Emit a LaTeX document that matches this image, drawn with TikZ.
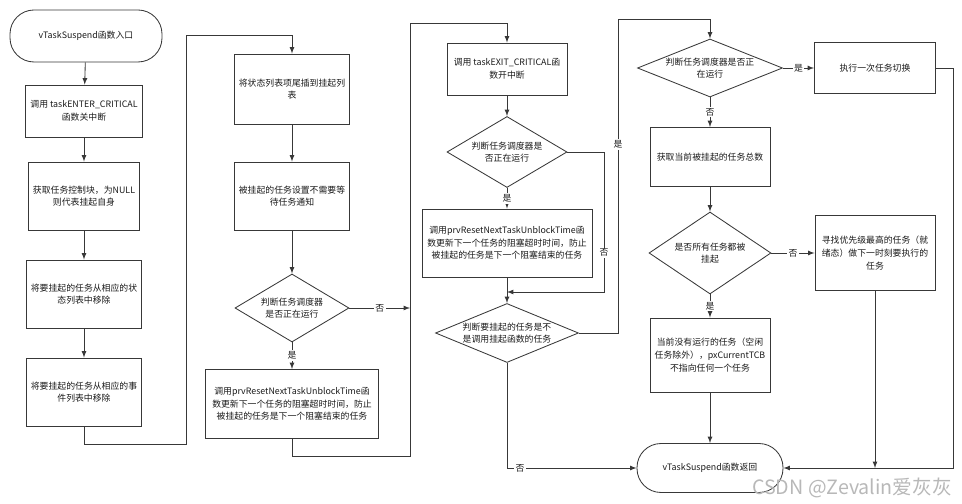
\documentclass[tikz,border=0pt]{standalone}
\usepackage{fontspec}
\setmainfont{Noto Sans CJK SC}
\usetikzlibrary{shapes.geometric}
\def\pxl{0.025cm}
\definecolor{linegray}{HTML}{383838}
\definecolor{textgray}{HTML}{1A1A1A}
\tikzset{
	procbox/.style={draw=linegray, line width=0.6pt, rectangle, align=center, text=textgray},
	decision/.style={draw=linegray, line width=0.6pt, diamond, inner sep=0pt},
	terminal/.style={draw=linegray, line width=0.6pt, rectangle, rounded corners=0.6cm, align=center, text=textgray},
	arr/.style={draw=linegray, line width=0.6pt, -latex},
	yesno/.style={fill=white, inner sep=1pt, text=textgray}
}

\begin{document}
\begin{tikzpicture}[x=0.025cm, y=-0.025cm, font=\fontsize{6.3}{9}\selectfont]
		%%%%% START %%%%%
		\useasboundingbox (0,0) rectangle (962,504);
		
		% first column
		\node[terminal, minimum width=152*\pxl, minimum height=52*\pxl] (start) at (86,36) {vTaskSuspend函数入口};
		\node[procbox, minimum width=112*\pxl, minimum height=52*\pxl] (b1) at (84,111) {调用 taskENTER\_CRITICAL\\函数关中断};
		\node[procbox, minimum width=110*\pxl, minimum height=68*\pxl] (b2) at (84,196) {获取任务控制块，为NULL\\则代表挂起自身};
		\node[procbox, minimum width=112*\pxl, minimum height=68*\pxl] (b3) at (84,294) {将要挂起的任务从相应的状\\态列表中移除};
		\node[procbox, minimum width=112*\pxl, minimum height=68*\pxl] (b4) at (84,392) {将要挂起的任务从相应的事\\件列表中移除};
		
		% second column
		\node[procbox, minimum width=114*\pxl, minimum height=70*\pxl] (b5) at (292,89) {将状态列表项尾插到挂起列\\表};
		\node[procbox, minimum width=114*\pxl, minimum height=68*\pxl] (b6) at (292,196) {被挂起的任务设置不需要等\\待任务通知};
		\node[decision, minimum width=114*\pxl, minimum height=68*\pxl, label={[align=center, text=textgray]center:判断任务调度器\\是否正在运行}] (d1) at (292,308) {};
		\node[procbox, minimum width=173*\pxl, minimum height=69*\pxl] (b7) at (292,404) {调用prvResetNextTaskUnblockTime函\\数更新下一个任务的阻塞超时时间，防止\\被挂起的任务是下一个阻塞结束的任务};
		
		% third column
		\node[procbox, minimum width=120*\pxl, minimum height=52*\pxl] (b8) at (507,69) {调用 taskEXIT\_CRITICAL函\\数开中断};
		\node[decision, minimum width=120*\pxl, minimum height=71*\pxl, label={[align=center, text=textgray]center:判断任务调度器是\\否正在运行}] (d2) at (507,152) {};
		\node[procbox, minimum width=170*\pxl, minimum height=68*\pxl] (b9) at (507,243) {调用prvResetNextTaskUnblockTime函\\数更新下一个任务的阻塞超时时间，防止\\被挂起的任务是下一个阻塞结束的任务};
		\node[decision, minimum width=143*\pxl, minimum height=59*\pxl, label={[align=center, text=textgray]center:判断要挂起的任务是不\\是调用挂起函数的任务}] (d3) at (507,333) {};
		
		% fourth column
		\node[decision, minimum width=145*\pxl, minimum height=58*\pxl, label={[align=center, text=textgray]center:判断任务调度器是否正\\在运行}] (d4) at (710,68) {};
		\node[procbox, minimum width=120*\pxl, minimum height=59*\pxl] (b11) at (710,157) {获取当前被挂起的任务总数};
		\node[decision, minimum width=122*\pxl, minimum height=82*\pxl, label={[align=center, text=textgray]center:是否所有任务都被\\挂起}] (d5) at (710,253) {};
		\node[procbox, minimum width=108*\pxl, minimum height=74*\pxl] (b13) at (710,355) {当前没有运行的任务（空闲\\任务除外），pxCurrentTCB\\不指向任何一个任务};
		\node[terminal, minimum width=146*\pxl, minimum height=49*\pxl] (end) at (710,468) {vTaskSuspend函数返回};
		
		% fifth column
		\node[procbox, minimum width=121*\pxl, minimum height=51*\pxl] (b10) at (875,68) {执行一次任务切换};
		\node[procbox, minimum width=120*\pxl, minimum height=75*\pxl] (b12) at (875,253) {寻找优先级最高的任务（就\\绪态）做下一时刻要执行的\\任务};
		
		% corners of the long lines
		\coordinate (r1b) at (186,444);
		\coordinate (r1t) at (186,35);
		\coordinate (r2m) at (410,308);
		\coordinate (r2b) at (410,456);
		\coordinate (r2t) at (410,23);
		\coordinate (r3b) at (604,292);
		\coordinate (j1) at (507,292);
		\coordinate (r4b) at (618,333);
		\coordinate (r4t) at (618,19);
		\coordinate (r5b) at (953,468);
		
		\draw[arr] (start) -- (b1);
		\draw[arr] (b1) -- (b2);
		\draw[arr] (b2) -- (b3);
		\draw[arr] (b3) -- (b4);
		\draw[arr] (b4.south) |- (r1b) -- (r1t) -| (b5.north);
		
		\draw[arr] (b5) -- (b6);
		\draw[arr] (b6) -- (d1);
		\draw[arr] (d1.east) -- node[yesno]{否} (r2m);
		\draw[arr] (d1.south) -- node[yesno]{是} (b7.north);
		\draw[arr] (b7.south) |- (r2b) -- (r2t) -| (b8.north);
		
		\draw[arr] (b8) -- (d2);
		\draw[arr] (d2.south) -- node[yesno]{是} (b9.north);
		\draw[arr] (d2.east) -| node[yesno, pos=0.86]{否} (r3b) -- (j1);
		\draw[arr] (b9.south) -- (d3.north);
		\draw[arr] (d3.east) -- (r4b) -- node[yesno, pos=0.6]{是} (r4t) -| (d4.north);
		\draw[arr] (d3.south) |- node[yesno, pos=0.55]{否} (end.west);
		
		\draw[arr] (d4.east) -- node[yesno]{是} (b10.west);
		\draw[arr] (d4.south) -- node[yesno]{否} (b11.north);
		\draw[arr] (b11) -- (d5);
		\draw[arr] (d5.east) -- node[yesno]{否} (b12.west);
		\draw[arr] (d5.south) -- node[yesno]{是} (b13.north);
		\draw[arr] (b13) -- (end);
		\draw[arr] (b10.east) -| (r5b) -- (end.east);
		\draw[arr] (b12.south) -- (b12.south |- r5b);
		
		\node[text=black!28, font=\fontsize{14}{14}\selectfont, anchor=east] (mark) at (957,488) {CSDN @Zevalin爱灰灰};
		
		%%%%% END %%%%%
	\end{tikzpicture}
\end{document}
